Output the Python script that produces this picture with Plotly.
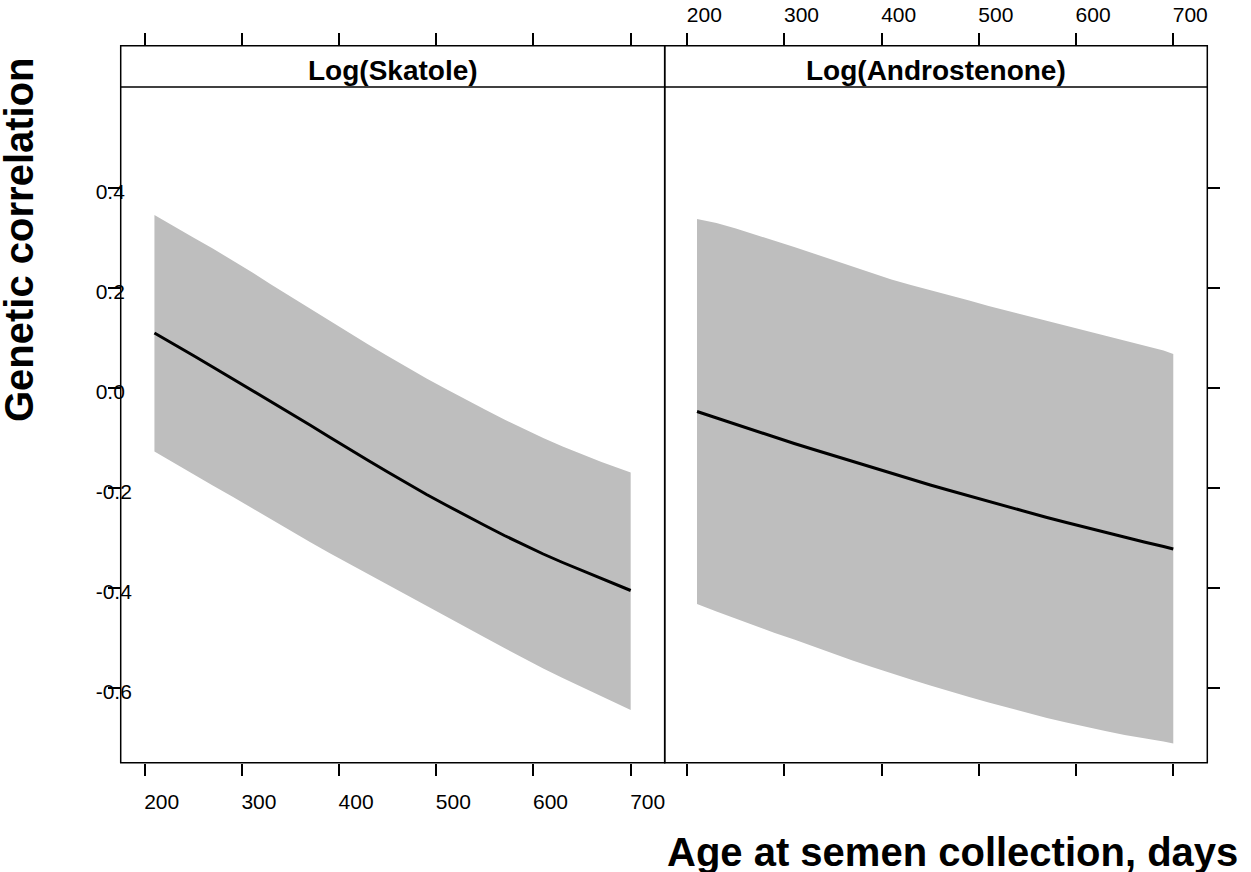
import plotly.graph_objects as go

# ---------------- data ----------------
days = [210, 230, 250, 270, 290, 310, 330, 350, 370, 390, 410, 430, 450,
        470, 490, 510, 530, 550, 570, 590, 610, 630, 650, 670, 690, 700]

skatole_mean = [0.110, 0.088, 0.065, 0.042, 0.019, -0.004, -0.027, -0.050, -0.074,
                -0.098, -0.122, -0.145, -0.168, -0.191, -0.213, -0.234, -0.255,
                -0.275, -0.295, -0.314, -0.332, -0.349, -0.365, -0.381, -0.397, -0.405]
skatole_upper = [0.346, 0.323, 0.301, 0.279, 0.256, 0.232, 0.207, 0.183, 0.158,
                 0.134, 0.110, 0.087, 0.064, 0.041, 0.019, -0.002, -0.023, -0.043,
                 -0.063, -0.082, -0.100, -0.117, -0.133, -0.148, -0.162, -0.169]
skatole_lower = [-0.127, -0.150, -0.172, -0.195, -0.217, -0.240, -0.262, -0.285,
                 -0.308, -0.330, -0.351, -0.372, -0.393, -0.414, -0.435, -0.456,
                 -0.478, -0.499, -0.520, -0.541, -0.561, -0.580, -0.599, -0.617,
                 -0.635, -0.644]

andro_mean = [-0.047, -0.060, -0.073, -0.086, -0.099, -0.111, -0.123, -0.135, -0.147,
              -0.159, -0.171, -0.182, -0.194, -0.205, -0.216, -0.227, -0.238, -0.248,
              -0.259, -0.269, -0.279, -0.289, -0.298, -0.308, -0.317, -0.322]
andro_upper = [0.338, 0.330, 0.319, 0.307, 0.295, 0.282, 0.269, 0.256, 0.242, 0.229,
               0.217, 0.206, 0.196, 0.185, 0.175, 0.164, 0.154, 0.144, 0.134, 0.124,
               0.114, 0.104, 0.094, 0.085, 0.075, 0.068]
andro_lower = [-0.432, -0.447, -0.462, -0.476, -0.490, -0.503, -0.516, -0.531, -0.545,
               -0.558, -0.571, -0.583, -0.595, -0.607, -0.618, -0.629, -0.640, -0.650,
               -0.660, -0.669, -0.678, -0.686, -0.694, -0.701, -0.707, -0.711]

panel_titles = ["Log(Skatole)", "Log(Androstenone)"]
x_ticks = [200, 300, 400, 500, 600, 700]
y_ticks = [-0.6, -0.4, -0.2, 0.0, 0.2, 0.4]
y_ticktext = ["-0.6", "-0.4", "-0.2", "0.0", "0.2", "0.4"]
x_title = "Age at semen collection, days"
y_title = "Genetic correlation"

# ---------------- layout geometry (pixels) ----------------
W, H = 1251, 872
P1L, P1R, P2R = 120.7, 664.7, 1207.3
BOX_TOP, STRIP_BOT, BOX_BOT = 45.7, 87.0, 762.7


def fx(p):
    return p / W


def fy(p):
    return 1 - p / H


FONT = "Arial, Liberation Sans, sans-serif"
BAND = "#BEBEBE"

fig = go.Figure()

panels = [(skatole_mean, skatole_upper, skatole_lower, "x", "y"),
          (andro_mean, andro_upper, andro_lower, "x2", "y2")]
for mean, up, lo, xa, ya in panels:
    fig.add_trace(go.Scatter(
        x=days + days[::-1], y=up + lo[::-1], fill="toself", fillcolor=BAND,
        line=dict(width=0), mode="lines", xaxis=xa, yaxis=ya,
        hoverinfo="skip", showlegend=False))
    fig.add_trace(go.Scatter(
        x=days, y=mean, mode="lines", line=dict(color="black", width=3),
        xaxis=xa, yaxis=ya, showlegend=False))

tickfont = dict(family=FONT, size=21, color="black")
common_x = dict(showgrid=False, zeroline=False, showline=False, ticks="outside",
                ticklen=12, tickwidth=1.5, tickcolor="black", tickvals=x_ticks,
                tickfont=tickfont, mirror="ticks", ticklabelshift=17)
# y axis spans panel + strip; 500 px per unit
y_range = [-0.7494, -0.7494 + (BOX_BOT - BOX_TOP) / 500.0]
common_y = dict(showgrid=False, zeroline=False, showline=False, ticks="outside",
                ticklen=12, tickwidth=1.5, tickcolor="black", tickvals=y_ticks,
                ticktext=y_ticktext, tickfont=tickfont, range=y_range,
                domain=[fy(BOX_BOT), fy(BOX_TOP)])

r1 = [175.3, 735.0]
r2 = [176.75, 735.0]

fig.update_layout(
    width=W, height=H, margin=dict(l=0, r=0, t=0, b=0),
    paper_bgcolor="white", plot_bgcolor="white", showlegend=False,
    xaxis=dict(common_x, domain=[fx(P1L), fx(P1R)], range=r1, anchor="y",
               side="bottom", ticklabelstandoff=8),
    xaxis2=dict(common_x, domain=[fx(P1R), fx(P2R)], range=r2, anchor="y2",
                side="top", ticklabelstandoff=2),
    yaxis=dict(common_y, anchor="x", side="left", ticklabelposition="inside",
               ticklabelstandoff=-28, ticklabelshift=4,
               ticklabeloverflow="allow"),
    yaxis2=dict(common_y, anchor="x2", side="right", showticklabels=False),
)

shapes = []
for l, r in [(P1L, P1R), (P1R, P2R)]:
    shapes.append(dict(type="rect", xref="paper", yref="paper",
                       x0=fx(l), x1=fx(r), y0=fy(BOX_BOT), y1=fy(BOX_TOP),
                       line=dict(color="black", width=1.5), layer="above"))
    shapes.append(dict(type="line", xref="paper", yref="paper",
                       x0=fx(l), x1=fx(r), y0=fy(STRIP_BOT), y1=fy(STRIP_BOT),
                       line=dict(color="black", width=1.5), layer="above"))
fig.update_layout(shapes=shapes)

ann = []
for (l, r), t in zip([(P1L, P1R), (P1R, P2R)], panel_titles):
    ann.append(dict(text=t, xref="paper", yref="paper", x=fx((l + r) / 2),
                    y=fy(70), xanchor="center", yanchor="middle", showarrow=False,
                    font=dict(family=FONT, size=28, color="black", weight="bold")))
ann.append(dict(text=x_title, xref="paper", yref="paper", x=fx(952), y=fy(852),
                xanchor="center", yanchor="middle", showarrow=False,
                font=dict(family=FONT, size=40, color="black", weight="bold")))
ann.append(dict(text=y_title, xref="paper", yref="paper", x=fx(19), y=fy(240),
                xanchor="center", yanchor="middle", showarrow=False, textangle=-90,
                font=dict(family=FONT, size=40, color="black", weight="bold")))
fig.update_layout(annotations=ann)

fig.write_html("out.html", config={"displayModeBar": False},
               post_script="document.body.style.margin='0';"
                           "document.body.style.overflow='hidden';")
